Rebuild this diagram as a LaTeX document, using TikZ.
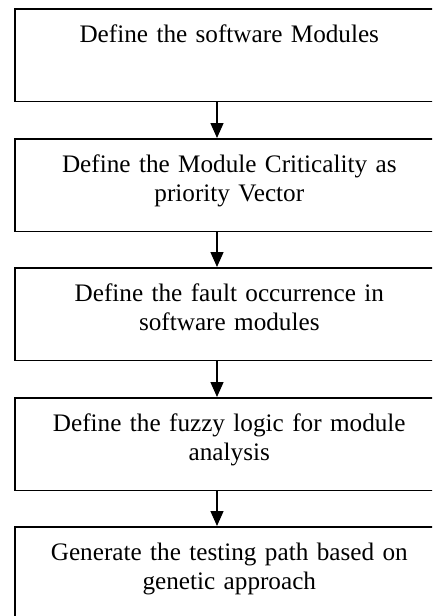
\documentclass[tikz,border=0pt]{standalone}
\usepackage{fontspec}
\setmainfont{Liberation Serif}
\usetikzlibrary{arrows.meta}
\begin{document}
\begin{tikzpicture}[x=1pt,y=1pt,
  stepbox/.style={draw=black, line width=1.6pt, rectangle, anchor=north west,
    inner sep=0pt, minimum width=429pt, minimum height=92.5pt,
    text width=429pt, align=center, text height=34pt, text depth=58.5pt,
    font=\fontsize{25.2}{29}\selectfont},
  flow/.style={line width=1.4pt, -{Triangle[length=15pt,width=13pt]}}]
  \clip (0,0) rectangle (432,-616);
  \fill[white] (0,0) rectangle (432,-616);

  \node[stepbox] (s1) at (14,-8)   {Define the software Modules};
  \node[stepbox] (s2) at (14,-138) {Define the Module Criticality as\\priority Vector};
  \node[stepbox] (s3) at (14,-267) {Define the fault occurrence in\\software modules};
  \node[stepbox] (s4) at (14,-397) {Define the fuzzy logic for module\\analysis};
  \node[stepbox] (s5) at (14,-526) {Generate the testing path based on\\genetic approach};

  \foreach \a/\b in {s1/s2, s2/s3, s3/s4, s4/s5}
    \draw[flow] (\a.south west -| 217,0) -- (\b.north west -| 217,0);
\end{tikzpicture}
\end{document}
